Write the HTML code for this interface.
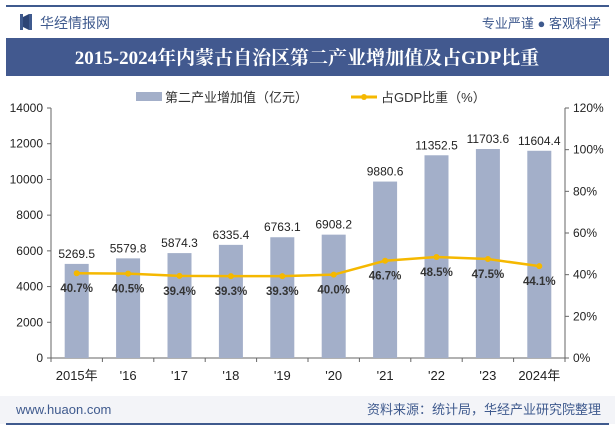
<!DOCTYPE html>
<html><head><meta charset="utf-8"><style>
body{margin:0;width:615px;height:427px;overflow:hidden;background:#fff;font-family:"Liberation Sans","Noto Sans CJK SC",sans-serif;}
</style></head><body>
<svg width="615" height="427" xmlns="http://www.w3.org/2000/svg">
<rect x="6" y="5" width="603" height="2" fill="#3f5a8e"/>
<rect x="20" y="14" width="3" height="16" fill="#3f5a8e"/>
<rect x="29" y="14" width="3" height="16" fill="#3f5a8e"/>
<polygon points="23,17 29,14 29,30 23,27" fill="#2c4475"/>
<text x="40" y="28" font-size="14" fill="#3f5a8e">华经情报网</text>
<text x="601" y="28" font-size="13" fill="#3f5a8e" text-anchor="end">专业严谨 ● 客观科学</text>
<rect x="6" y="38" width="603" height="38" fill="#42598f"/>
<text x="307" y="64" font-size="19" font-weight="bold" fill="#fff" text-anchor="middle" font-family="Liberation Serif,Noto Serif CJK SC,serif">2015-2024年内蒙古自治区第二产业增加值及占GDP比重</text>
<rect x="136" y="92" width="26" height="9" fill="#a3afc9"/>
<text x="165" y="102" font-size="13" fill="#333">第二产业增加值（亿元）</text>
<line x1="351" y1="97" x2="377" y2="97" stroke="#f5b800" stroke-width="3"/>
<circle cx="364" cy="97" r="3" fill="#f5b800"/>
<text x="381" y="102" font-size="13" fill="#333">占GDP比重（%）</text>
<rect x="0" y="396" width="615" height="28" fill="#f3f4f8"/>
<rect x="6" y="423" width="603" height="2" fill="#3f5a8e"/>
<text x="16" y="414" font-size="13" fill="#3f5a8e">www.huaon.com</text>
<text x="601" y="414" font-size="13" fill="#3f5a8e" text-anchor="end">资料来源：统计局，华经产业研究院整理</text>
<g id="plot"></g>
</svg>
<script>
const categories=['2015年',"'16","'17","'18","'19","'20","'21","'22","'23",'2024年'];
const values=[5269.5,5579.8,5874.3,6335.4,6763.1,6908.2,9880.6,11352.5,11703.6,11604.4];
const shares=[40.7,40.5,39.4,39.3,39.3,40.0,46.7,48.5,47.5,44.1];
const leftTicks=[0,2000,4000,6000,8000,10000,12000,14000];
const rightTicks=[0,20,40,60,80,100,120];
const X0=51,X1=565,Y0=358,Y1=108;
const band=(X1-X0)/categories.length;
const xc=i=>X0+band*(i+0.5);
const yL=v=>Y0-(v/14000)*(Y0-Y1);
const yR=v=>Y0-(v/120)*(Y0-Y1);
const NS='http://www.w3.org/2000/svg';
const g=document.getElementById('plot');
function mk(t,a,txt){const e=document.createElementNS(NS,t);for(const k in a)e.setAttribute(k,a[k]);if(txt!==undefined)e.textContent=txt;g.appendChild(e);return e;}
let e;
e=mk('line',{x1:X0,y1:Y1,x2:X0,y2:Y0,stroke:'#666'});


e=mk('line',{x1:X1,y1:Y1,x2:X1,y2:Y0,stroke:'#666'});


e=mk('line',{x1:X0,y1:Y0,x2:X1,y2:Y0,stroke:'#666'});


leftTicks.forEach(v=>{
 e=mk('line',{x1:X0-4,y1:yL(v),x2:X0,y2:yL(v),stroke:'#666'});
 
 
 e=mk('text',{x:X0-8,y:yL(v)+4,'font-size':12,'text-anchor':'end',fill:'#222'},v);
 
 
});
rightTicks.forEach(v=>{
 e=mk('line',{x1:X1,y1:yR(v),x2:X1+4,y2:yR(v),stroke:'#666'});
 
 
 e=mk('text',{x:X1+8,y:yR(v)+4,'font-size':12,fill:'#222'},v+'%');
 
 
});
for(let i=0;i<=categories.length;i++){
 e=mk('line',{x1:X0+band*i,y1:Y0,x2:X0+band*i,y2:Y0+4,stroke:'#666'});
 
 
}
categories.forEach((c,i)=>{
 e=mk('rect',{x:xc(i)-12,y:yL(values[i]),width:24,height:Y0-yL(values[i]),fill:'#a3afc9'});
 
 
 e=mk('text',{x:xc(i),y:yL(values[i])-6,'font-size':12,'text-anchor':'middle',fill:'#222'},values[i].toFixed(1));
 
 
 e=mk('text',{x:xc(i),y:Y0+22,'font-size':13,'text-anchor':'middle',fill:'#222'},c);
 
 
});
e=mk('polyline',{points:shares.map((v,i)=>xc(i)+','+yR(v)).join(' '),fill:'none',stroke:'#f5b800','stroke-width':2.5});


shares.forEach((v,i)=>{
 e=mk('circle',{cx:xc(i),cy:yR(v),r:3,fill:'#f5b800'});
 
 
 e=mk('text',{x:xc(i),y:yR(v)+19,'font-size':11.5,'font-weight':'bold','text-anchor':'middle',fill:'#333'},v.toFixed(1)+'%');
 
 
});
</script>
</body></html>
